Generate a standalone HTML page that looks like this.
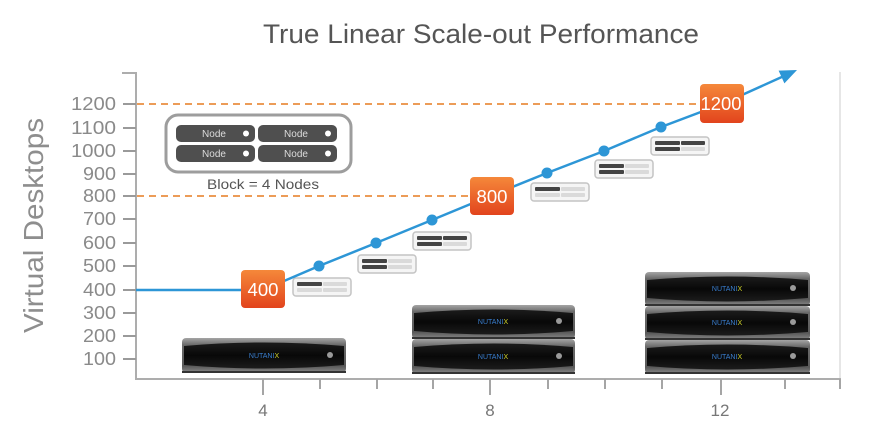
<!DOCTYPE html>
<html>
<head>
<meta charset="utf-8">
<style>
  html,body{margin:0;padding:0;background:#fff;}
  svg{display:block;}
  text{font-family:"Liberation Sans", sans-serif;}
</style>
</head>
<body>
<svg width="884" height="422" viewBox="0 0 884 422" xmlns="http://www.w3.org/2000/svg">
  <defs>
    <linearGradient id="org" x1="0" y1="0" x2="0" y2="1">
      <stop offset="0" stop-color="#f5883a"/>
      <stop offset="1" stop-color="#e2441d"/>
    </linearGradient>
    <linearGradient id="gry" x1="0" y1="0" x2="0" y2="1">
      <stop offset="0" stop-color="#a5a5a5"/>
      <stop offset="0.2" stop-color="#6a6a6a"/>
      <stop offset="0.8" stop-color="#5a5a5a"/>
      <stop offset="1" stop-color="#8a8a8a"/>
    </linearGradient>
    <linearGradient id="blk" x1="0" y1="0" x2="0" y2="1">
      <stop offset="0" stop-color="#1c1c1c"/>
      <stop offset="0.5" stop-color="#080808"/>
      <stop offset="1" stop-color="#1c1c1c"/>
    </linearGradient>
  </defs>

  <!-- Title -->
  <text x="481" y="43" font-size="27" fill="#555" text-anchor="middle" textLength="436" lengthAdjust="spacingAndGlyphs">True Linear Scale-out Performance</text>

  <!-- Y label -->
  <text transform="translate(43,225.5) rotate(-90)" x="0" y="0" font-size="28" fill="#8e8e8e" text-anchor="middle" textLength="215" lengthAdjust="spacingAndGlyphs">Virtual Desktops</text>

  <!-- right light border -->
  <line x1="840" y1="72" x2="840" y2="379" stroke="#e6e6e6" stroke-width="2"/>

  <!-- axes -->
  <line x1="136" y1="72" x2="136" y2="380" stroke="#adadad" stroke-width="2"/>
  <line x1="122" y1="73" x2="136" y2="73" stroke="#adadad" stroke-width="2"/>
  <line x1="135" y1="379" x2="841" y2="379" stroke="#adadad" stroke-width="2"/>

  <!-- y ticks -->
  <g stroke="#9a9a9a" stroke-width="2">
    <line x1="123" y1="104" x2="136" y2="104"/>
    <line x1="123" y1="128" x2="136" y2="128"/>
    <line x1="123" y1="151" x2="136" y2="151"/>
    <line x1="123" y1="174" x2="136" y2="174"/>
    <line x1="123" y1="196" x2="136" y2="196"/>
    <line x1="123" y1="219" x2="136" y2="219"/>
    <line x1="123" y1="243" x2="136" y2="243"/>
    <line x1="123" y1="266" x2="136" y2="266"/>
    <line x1="123" y1="290" x2="136" y2="290"/>
    <line x1="123" y1="313" x2="136" y2="313"/>
    <line x1="123" y1="336" x2="136" y2="336"/>
    <line x1="123" y1="359" x2="136" y2="359"/>
  </g>
  <g font-size="18" fill="#8a8a8a" text-anchor="end">
    <text x="116" y="110" textLength="45" lengthAdjust="spacingAndGlyphs">1200</text>
    <text x="116" y="134" textLength="45" lengthAdjust="spacingAndGlyphs">1100</text>
    <text x="116" y="157" textLength="45" lengthAdjust="spacingAndGlyphs">1000</text>
    <text x="116" y="180" textLength="33" lengthAdjust="spacingAndGlyphs">900</text>
    <text x="116" y="202" textLength="33" lengthAdjust="spacingAndGlyphs">800</text>
    <text x="116" y="225" textLength="33" lengthAdjust="spacingAndGlyphs">700</text>
    <text x="116" y="249" textLength="33" lengthAdjust="spacingAndGlyphs">600</text>
    <text x="116" y="272" textLength="33" lengthAdjust="spacingAndGlyphs">500</text>
    <text x="116" y="296" textLength="33" lengthAdjust="spacingAndGlyphs">400</text>
    <text x="116" y="319" textLength="33" lengthAdjust="spacingAndGlyphs">300</text>
    <text x="116" y="342" textLength="33" lengthAdjust="spacingAndGlyphs">200</text>
    <text x="116" y="365" textLength="33" lengthAdjust="spacingAndGlyphs">100</text>
  </g>

  <!-- x ticks -->
  <g stroke="#a5a5a5" stroke-width="2">
    <line x1="263" y1="379" x2="263" y2="395"/>
    <line x1="320" y1="379" x2="320" y2="389"/>
    <line x1="377" y1="379" x2="377" y2="389"/>
    <line x1="433" y1="379" x2="433" y2="389"/>
    <line x1="490" y1="379" x2="490" y2="395"/>
    <line x1="548" y1="379" x2="548" y2="389"/>
    <line x1="605" y1="379" x2="605" y2="389"/>
    <line x1="662" y1="379" x2="662" y2="389"/>
    <line x1="721" y1="379" x2="721" y2="395"/>
    <line x1="785" y1="379" x2="785" y2="389"/>
    <line x1="840" y1="379" x2="840" y2="389"/>
  </g>
  <g font-size="17" fill="#777" text-anchor="middle">
    <text x="263" y="416">4</text>
    <text x="490" y="416">8</text>
    <text x="720" y="416">12</text>
  </g>

  <!-- orange dashed lines -->
  <g stroke="#ec9c58" stroke-width="2" stroke-dasharray="7 5">
    <line x1="137" y1="104" x2="700" y2="104"/>
    <line x1="137" y1="196" x2="470" y2="196"/>
  </g>

  <!-- Legend -->
  <rect x="166" y="115" width="185" height="57" rx="12" fill="#fff" stroke="#9d9d9d" stroke-width="3"/>
  <g>
    <rect x="176" y="125" width="79" height="17" rx="5" fill="#4f4f4f"/>
    <rect x="258" y="125" width="79" height="17" rx="5" fill="#4f4f4f"/>
    <rect x="176" y="145" width="79" height="17" rx="5" fill="#4f4f4f"/>
    <rect x="258" y="145" width="79" height="17" rx="5" fill="#4f4f4f"/>
    <g font-size="10" fill="#dcdcdc" text-anchor="middle">
      <text x="214" y="137">Node</text>
      <text x="296" y="137">Node</text>
      <text x="214" y="157">Node</text>
      <text x="296" y="157">Node</text>
    </g>
    <g fill="#fff">
      <circle cx="246" cy="133.5" r="3"/>
      <circle cx="328" cy="133.5" r="3"/>
      <circle cx="246" cy="153.5" r="3"/>
      <circle cx="328" cy="153.5" r="3"/>
    </g>
  </g>
  <text x="263" y="189" font-size="14" fill="#555" text-anchor="middle" textLength="112" lengthAdjust="spacingAndGlyphs">Block = 4 Nodes</text>

  <!-- Small block icons -->
  <g>
    <g transform="translate(293,278)">
      <rect x="0" y="0" width="58" height="18" rx="3" fill="#f5f5f5" stroke="#c4c4c4" stroke-width="1.5"/>
      <rect x="4" y="4" width="25" height="4" rx="1" fill="#444"/>
      <rect x="30" y="4" width="24" height="4" rx="1" fill="#dadada"/>
      <rect x="4" y="10" width="25" height="4" rx="1" fill="#dadada"/>
      <rect x="30" y="10" width="24" height="4" rx="1" fill="#dadada"/>
    </g>
    <g transform="translate(358,255)">
      <rect x="0" y="0" width="58" height="18" rx="3" fill="#f5f5f5" stroke="#c4c4c4" stroke-width="1.5"/>
      <rect x="4" y="4" width="25" height="4" rx="1" fill="#444"/>
      <rect x="30" y="4" width="24" height="4" rx="1" fill="#dadada"/>
      <rect x="4" y="10" width="25" height="4" rx="1" fill="#444"/>
      <rect x="30" y="10" width="24" height="4" rx="1" fill="#dadada"/>
    </g>
    <g transform="translate(413,232)">
      <rect x="0" y="0" width="58" height="18" rx="3" fill="#f5f5f5" stroke="#c4c4c4" stroke-width="1.5"/>
      <rect x="4" y="4" width="25" height="4" rx="1" fill="#444"/>
      <rect x="30" y="4" width="24" height="4" rx="1" fill="#444"/>
      <rect x="4" y="10" width="25" height="4" rx="1" fill="#444"/>
      <rect x="30" y="10" width="24" height="4" rx="1" fill="#dadada"/>
    </g>
    <g transform="translate(531,183)">
      <rect x="0" y="0" width="58" height="18" rx="3" fill="#f5f5f5" stroke="#c4c4c4" stroke-width="1.5"/>
      <rect x="4" y="4" width="25" height="4" rx="1" fill="#444"/>
      <rect x="30" y="4" width="24" height="4" rx="1" fill="#dadada"/>
      <rect x="4" y="10" width="25" height="4" rx="1" fill="#dadada"/>
      <rect x="30" y="10" width="24" height="4" rx="1" fill="#dadada"/>
    </g>
    <g transform="translate(595,160)">
      <rect x="0" y="0" width="58" height="18" rx="3" fill="#f5f5f5" stroke="#c4c4c4" stroke-width="1.5"/>
      <rect x="4" y="4" width="25" height="4" rx="1" fill="#444"/>
      <rect x="30" y="4" width="24" height="4" rx="1" fill="#dadada"/>
      <rect x="4" y="10" width="25" height="4" rx="1" fill="#444"/>
      <rect x="30" y="10" width="24" height="4" rx="1" fill="#dadada"/>
    </g>
    <g transform="translate(651,137)">
      <rect x="0" y="0" width="58" height="18" rx="3" fill="#f5f5f5" stroke="#c4c4c4" stroke-width="1.5"/>
      <rect x="4" y="4" width="25" height="4" rx="1" fill="#444"/>
      <rect x="30" y="4" width="24" height="4" rx="1" fill="#444"/>
      <rect x="4" y="10" width="25" height="4" rx="1" fill="#444"/>
      <rect x="30" y="10" width="24" height="4" rx="1" fill="#dadada"/>
    </g>
  </g>

  <!-- Blue line -->
  <polyline points="136,290 263,290 319,266 376,243 432,220 490,196 547,173 604,151 661,127 722,104 784,76" fill="none" stroke="#2d96d6" stroke-width="2.5" stroke-linejoin="round"/>
  <polygon points="797,70 778.6,70.6 784.4,83.4" fill="#2d96d6"/>
  <g fill="#2d96d6">
    <circle cx="319" cy="266" r="5.5"/>
    <circle cx="376" cy="243" r="5.5"/>
    <circle cx="432" cy="220" r="5.5"/>
    <circle cx="547" cy="173" r="5.5"/>
    <circle cx="604" cy="151" r="5.5"/>
    <circle cx="661" cy="127" r="5.5"/>
  </g>

  <!-- Orange value boxes -->
  <rect x="241" y="270" width="44" height="38" rx="4" fill="url(#org)"/>
  <text x="263" y="296" font-size="18" fill="#fff" text-anchor="middle" textLength="31" lengthAdjust="spacingAndGlyphs">400</text>
  <rect x="470" y="177" width="44" height="38" rx="4" fill="url(#org)"/>
  <text x="492" y="203" font-size="18" fill="#fff" text-anchor="middle" textLength="31" lengthAdjust="spacingAndGlyphs">800</text>
  <rect x="700" y="84" width="44" height="39" rx="4" fill="url(#org)"/>
  <text x="721" y="110" font-size="18" fill="#fff" text-anchor="middle" textLength="41" lengthAdjust="spacingAndGlyphs">1200</text>

  <!-- Servers -->
  <g transform="translate(182,338)">
    <rect x="0" y="0" width="164" height="35" rx="4" fill="url(#gry)"/>
    <path d="M2,8 Q82,1 162,8 L162,27 Q82,34 2,27 Z" fill="url(#blk)"/>
    <text x="82" y="20" font-size="7" fill="#3a7fd0" text-anchor="middle">NUTANI<tspan fill="#cfd22a">X</tspan></text>
    <circle cx="148" cy="17" r="3" fill="#9a9a9a"/>
    <rect x="0" y="33" width="164" height="2" fill="#333"/>
  </g>
  <g transform="translate(412,305)">
    <rect x="0" y="0" width="163" height="34" rx="4" fill="url(#gry)"/>
    <path d="M2,8 Q82,1 161,8 L161,26 Q82,33 2,26 Z" fill="url(#blk)"/>
    <text x="81" y="19" font-size="7" fill="#3a7fd0" text-anchor="middle">NUTANI<tspan fill="#cfd22a">X</tspan></text>
    <circle cx="147" cy="16" r="3" fill="#9a9a9a"/>
    <rect x="0" y="32" width="163" height="2" fill="#333"/>
  </g>
  <g transform="translate(412,339)">
    <rect x="0" y="0" width="163" height="35" rx="4" fill="url(#gry)"/>
    <path d="M2,8 Q82,1 161,8 L161,27 Q82,34 2,27 Z" fill="url(#blk)"/>
    <text x="81" y="20" font-size="7" fill="#3a7fd0" text-anchor="middle">NUTANI<tspan fill="#cfd22a">X</tspan></text>
    <circle cx="147" cy="17" r="3" fill="#9a9a9a"/>
    <rect x="0" y="33" width="163" height="2" fill="#333"/>
  </g>
  <g transform="translate(645,272)">
    <rect x="0" y="0" width="165" height="34" rx="4" fill="url(#gry)"/>
    <path d="M2,8 Q82,1 163,8 L163,26 Q82,33 2,26 Z" fill="url(#blk)"/>
    <text x="82" y="19" font-size="7" fill="#3a7fd0" text-anchor="middle">NUTANI<tspan fill="#cfd22a">X</tspan></text>
    <circle cx="148" cy="16" r="3" fill="#9a9a9a"/>
    <rect x="0" y="32" width="165" height="2" fill="#333"/>
  </g>
  <g transform="translate(645,306)">
    <rect x="0" y="0" width="165" height="34" rx="4" fill="url(#gry)"/>
    <path d="M2,8 Q82,1 163,8 L163,26 Q82,33 2,26 Z" fill="url(#blk)"/>
    <text x="82" y="19" font-size="7" fill="#3a7fd0" text-anchor="middle">NUTANI<tspan fill="#cfd22a">X</tspan></text>
    <circle cx="148" cy="16" r="3" fill="#9a9a9a"/>
    <rect x="0" y="32" width="165" height="2" fill="#333"/>
  </g>
  <g transform="translate(645,340)">
    <rect x="0" y="0" width="165" height="34" rx="4" fill="url(#gry)"/>
    <path d="M2,8 Q82,1 163,8 L163,26 Q82,33 2,26 Z" fill="url(#blk)"/>
    <text x="82" y="19" font-size="7" fill="#3a7fd0" text-anchor="middle">NUTANI<tspan fill="#cfd22a">X</tspan></text>
    <circle cx="148" cy="16" r="3" fill="#9a9a9a"/>
    <rect x="0" y="32" width="165" height="2" fill="#333"/>
  </g>
</svg>
</body>
</html>
